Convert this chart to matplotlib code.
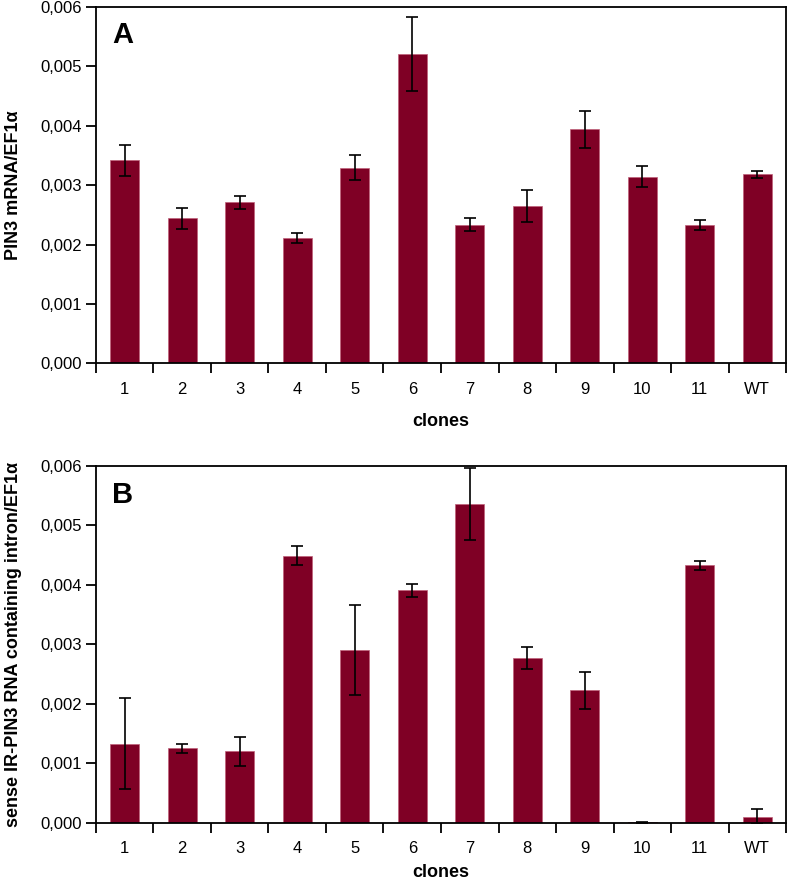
import numpy as np
import matplotlib
matplotlib.use('Agg')
import matplotlib.pyplot as plt
import matplotlib.ticker as ticker

plt.rcParams['font.family'] = ['Liberation Sans', 'DejaVu Sans']

# clones
clones = ['1', '2', '3', '4', '5', '6', '7', '8', '9', '10', '11', 'WT']

# A: PIN3 mRNA / EF1a
pin3_mrna = [0.00342, 0.00244, 0.00271, 0.00211, 0.00329, 0.00521,
             0.00233, 0.00265, 0.00394, 0.00314, 0.00233, 0.00318]
pin3_mrna_err = [0.00026, 0.00018, 0.00011, 0.00009, 0.00021, 0.00062,
                 0.00011, 0.00027, 0.00031, 0.00018, 0.00009, 0.00006]

# B: sense IR-PIN3 RNA containing intron / EF1a
ir_pin3 = [0.00133, 0.00125, 0.00120, 0.00449, 0.00290, 0.00391,
           0.00536, 0.00277, 0.00223, 0.00001, 0.00433, 0.00010]
ir_pin3_err = [0.00076, 0.00007, 0.00024, 0.00016, 0.00076, 0.00011,
               0.00061, 0.00019, 0.00031, 0.00001, 0.00008, 0.00013]

bar_col = '#7f0025'

fig = plt.figure(figsize=(7.88, 8.85), dpi=100)
axA = fig.add_axes([0.1218, 0.5893, 0.8757, 0.4031])
axB = fig.add_axes([0.1218, 0.0704, 0.8757, 0.4030])


def draw_panel(ax, vals, errs, ylabel, letter, xpad):
    x = np.arange(len(clones))
    ax.bar(x, vals, width=0.5, color=bar_col, edgecolor='#c0607a', linewidth=0.5,
           yerr=errs, error_kw=dict(ecolor='black', elinewidth=1.2, capsize=4.5, capthick=1.2))
    ax.set_xlim(-0.5, len(clones) - 0.5)
    ax.set_ylim(0, 0.006)
    ax.set_xticks(x)
    ax.set_xticklabels(clones, fontsize=12)
    # ticks sit between the bars
    ax.set_xticks(np.arange(-0.5, len(clones)), minor=True)
    ax.tick_params(axis='x', which='major', length=0, pad=13)
    ax.tick_params(axis='x', which='minor', length=7, width=1.3, direction='out')
    ax.set_yticks(np.arange(0, 0.0061, 0.001))
    ax.yaxis.set_major_formatter(ticker.FuncFormatter(lambda v, p: f'{v:.3f}'.replace('.', ',')))
    ax.tick_params(axis='y', length=7, width=1.3, direction='out', labelsize=12, pad=3)
    for s in ax.spines.values():
        s.set_linewidth(1.3)
    ax.set_xlabel('clones', fontsize=13, fontweight='bold', labelpad=xpad)
    ax.set_ylabel(ylabel, fontsize=13, fontweight='bold', labelpad=13)
    ax.text(0.023, 0.92, letter, transform=ax.transAxes, fontsize=21,
            fontweight='bold', ha='left', va='center')


draw_panel(axA, pin3_mrna, pin3_mrna_err, 'PIN3 mRNA/EF1α', 'A', 12)
draw_panel(axB, ir_pin3, ir_pin3_err, 'sense IR-PIN3 RNA containing intron/EF1α', 'B', 6)

fig.savefig('out.png', dpi=100)
